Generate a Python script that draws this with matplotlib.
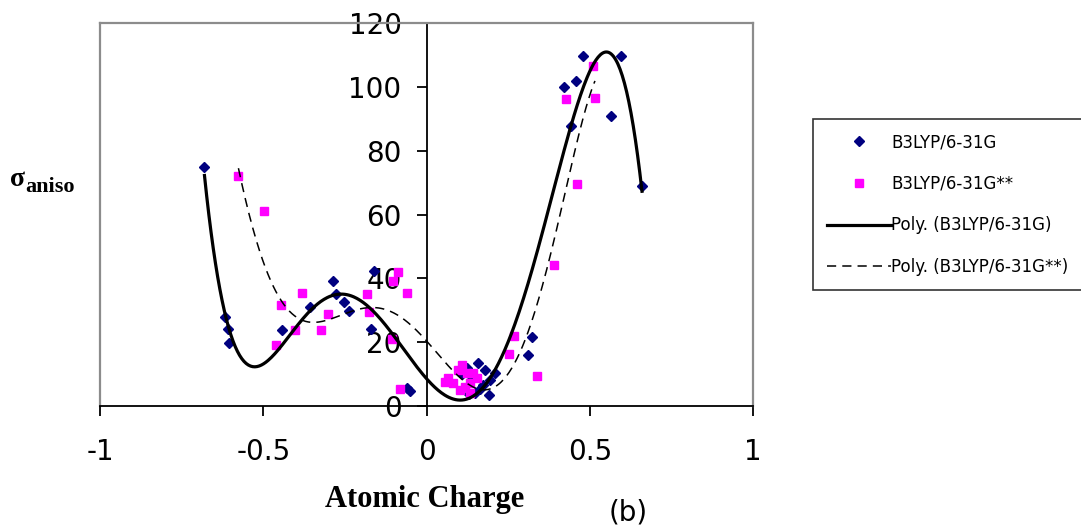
import numpy as np
import matplotlib
matplotlib.use("Agg")
import matplotlib.pyplot as plt
from matplotlib.lines import Line2D

# anisotropy vs atomic charge, two basis sets
charge_631g = [-0.680, -0.617, -0.607, -0.604, -0.443, -0.357, -0.287, -0.278,
               -0.252, -0.238, -0.161, -0.171, -0.051, -0.060, 0.110, 0.125,
               0.140, 0.130, 0.148, 0.159, 0.179, 0.210, 0.195, 0.174, 0.192,
               0.164, 0.312, 0.324, 0.422, 0.443, 0.458, 0.480, 0.564, 0.595,
               0.660]
aniso_631g = [75.0, 27.9, 24.1, 19.6, 23.7, 31.1, 39.2, 35.1,
              32.6, 29.7, 42.4, 24.1, 4.8, 5.6, 10.0, 12.0,
              9.0, 3.8, 4.0, 13.4, 11.3, 10.2, 8.2, 6.6, 3.4,
              5.2, 16.0, 21.5, 99.8, 87.6, 101.7, 109.7, 90.9, 109.7,
              69.0]

charge_631gss = [-0.576, -0.497, -0.446, -0.461, -0.403, -0.380, -0.324, -0.303,
                 -0.181, -0.176, -0.086, -0.102, -0.060, -0.107, -0.081, 0.057,
                 0.067, 0.082, 0.097, 0.108, 0.123, 0.143, 0.154, 0.133, 0.118,
                 0.103, 0.133, 0.253, 0.268, 0.338, 0.390, 0.427, 0.460, 0.511,
                 0.516]
aniso_631gss = [72.2, 61.0, 31.7, 19.1, 23.7, 35.4, 23.8, 28.8,
                35.0, 29.4, 41.9, 39.2, 35.4, 20.9, 5.2, 7.6,
                8.7, 7.1, 11.3, 12.9, 10.2, 10.2, 8.7, 7.1, 6.0,
                5.0, 4.0, 16.3, 21.9, 9.4, 44.3, 96.1, 69.5, 106.4,
                96.6]

x_ticks = [-1, -0.5, 0, 0.5, 1]
y_ticks = [0, 20, 40, 60, 80, 100, 120]
poly_order = 6

sans = "DejaVu Sans"
serif = "Liberation Serif"

fig = plt.figure(figsize=(10.81, 5.31), dpi=100)
ax = fig.add_axes([100 / 1081, 1 - 406 / 531, 653 / 1081, 383 / 531])
ax.set_xlim(-1, 1)
ax.set_ylim(0, 120)

# frame: grey box, black axes crossing at the origin
grey = "#8c8c8c"
for side in ("top", "right"):
    ax.spines[side].set_color(grey)
    ax.spines[side].set_linewidth(1.6)
ax.spines["left"].set_position(("data", 0))
ax.spines["left"].set_linewidth(1.3)
ax.spines["bottom"].set_linewidth(1.3)
ax.plot([-1, -1], [0, 120], color=grey, lw=1.6, clip_on=False, zorder=1)

ax.set_xticks(x_ticks)
ax.set_xticklabels(["-1", "-0.5", "0", "0.5", "1"])
ax.set_yticks(y_ticks)
ax.tick_params(axis="x", direction="out", length=7, width=1.3, pad=16,
               labelsize=20)
ax.tick_params(axis="y", direction="out", length=7, width=1.3, pad=11,
               labelsize=20)
for lab in ax.get_xticklabels() + ax.get_yticklabels():
    lab.set_fontfamily(sans)

# scatter points (second series drawn on top)
ax.plot(charge_631g, aniso_631g, linestyle="none", marker="D", ms=5.2,
        color="#000080", zorder=4)
ax.plot(charge_631gss, aniso_631gss, linestyle="none", marker="s", ms=6.3,
        color="#ff00ff", zorder=4)

# polynomial trendlines
def trend(xs, ys):
    coef = np.polyfit(xs, ys, poly_order)
    xx = np.linspace(min(xs), max(xs), 400)
    return xx, np.polyval(coef, xx)

tx, ty = trend(charge_631g, aniso_631g)
ax.plot(tx, ty, color="black", lw=2.3, zorder=5)
tx2, ty2 = trend(charge_631gss, aniso_631gss)
ax.plot(tx2, ty2, color="black", lw=1.1, dashes=(6, 4), zorder=5)

# axis titles
fig.text(425 / 1081, 1 - 500 / 531, "Atomic Charge", family=serif,
         weight="bold", fontsize=22, ha="center", va="center")
fig.text(628 / 1081, 1 - 512 / 531, "(b)", family=sans, fontsize=20,
         ha="center", va="center")
fig.text(10 / 1081, 1 - 186 / 531, "σ", family=serif, weight="bold",
         fontsize=20, ha="left", va="baseline")
fig.text(25 / 1081, 1 - 192 / 531, "aniso", family=serif, weight="bold",
         fontsize=16, ha="left", va="baseline")

handles = [
    Line2D([], [], linestyle="none", marker="D", ms=5.2, color="#000080"),
    Line2D([], [], linestyle="none", marker="s", ms=6.3, color="#ff00ff"),
    Line2D([], [], color="black", lw=2.3),
    Line2D([], [], color="black", lw=1.1, dashes=(6, 4)),
]
labels = ["B3LYP/6-31G", "B3LYP/6-31G**", "Poly. (B3LYP/6-31G)",
          "Poly. (B3LYP/6-31G**)"]
leg = fig.legend(handles, labels, loc="upper left",
                 bbox_to_anchor=(813 / 1081, 1 - 119 / 531),
                 prop={"family": sans, "size": 12}, frameon=True,
                 fancybox=False, edgecolor="black", handlelength=3.8,
                 handletextpad=0.05, labelspacing=1.42, borderpad=0.85,
                 borderaxespad=0)
leg.get_frame().set_linewidth(1.2)

fig.savefig("out.png", dpi=100)
